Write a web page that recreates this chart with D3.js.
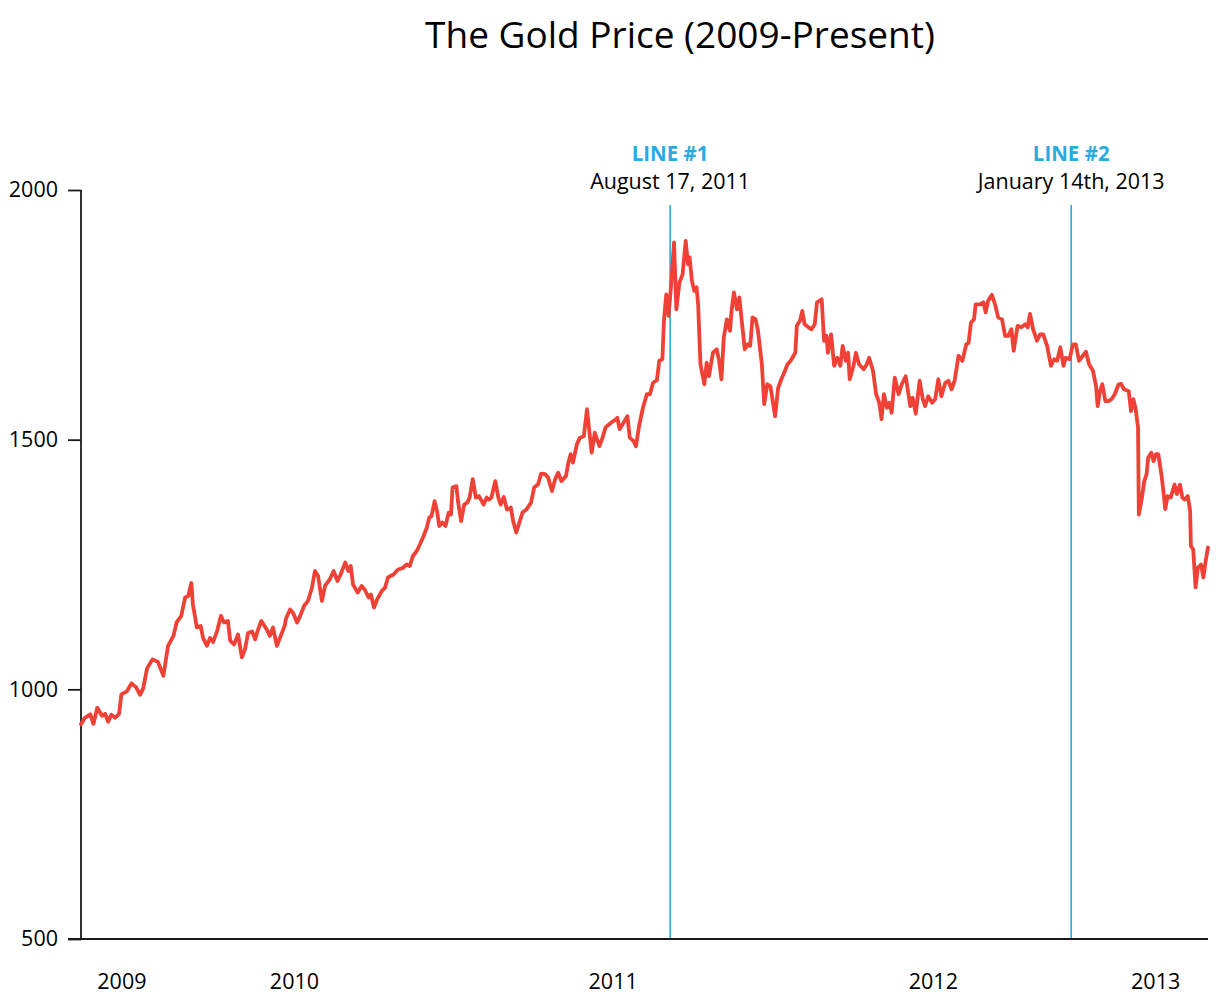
<!DOCTYPE html>
<html>
<head>
<meta charset="utf-8">
<script src="https://cdn.jsdelivr.net/npm/d3@7"></script>
<style>
  html, body { margin: 0; padding: 0; background: #ffffff; }
  svg { display: block; }
  text { font-family: "Open Sans", "Noto Sans", sans-serif; }
</style>
</head>
<body>
<svg id="chart" width="1219" height="1001"></svg>
<script>
// ---- Data ----
// Days elapsed since the first sample (2009-07-20) and gold price in USD/oz.
const startDate = "2009-07-20";
const dayOffsets = [
  0,5,12,16,21,27,31,35,39,44,49,52,59,65,71,76,80,85,92,99,106,112,119,123,129,134,138,142,144,149,
  154,157,162,166,170,175,180,184,189,192,197,202,207,211,215,220,224,227,232,239,243,247,252,256,262,264,269,273,278,282,
  287,292,297,301,305,310,314,320,325,330,334,340,344,347,350,356,361,365,370,373,377,381,387,391,395,402,408,414,419,423,
  427,432,436,440,445,448,451,455,458,461,465,469,473,476,478,483,485,489,493,497,500,504,508,512,518,522,525,528,533,537,
  540,544,548,553,556,560,564,568,573,579,583,588,592,597,601,606,610,614,618,624,627,630,633,638,642,647,651,657,661,667,
  671,675,682,687,690,693,698,703,706,711,714,718,723,728,732,736,741,744,748,750,753,756,759,763,766,770,774,778,781,783,
  786,789,792,794,797,802,805,808,813,818,821,824,827,831,835,837,840,844,847,851,854,858,861,864,868,871,876,879,883,887,
  893,897,901,904,909,913,919,921,925,928,931,936,940,944,947,953,956,959,961,965,969,973,977,980,984,987,989,994,997,1001,
  1007,1011,1014,1019,1023,1027,1030,1033,1037,1040,1043,1047,1052,1056,1061,1067,1070,1074,1079,1083,1086,1090,1095,1099,1103,1107,1112,1116,1120,1124,
  1129,1134,1139,1142,1145,1149,1151,1157,1161,1164,1167,1172,1176,1180,1185,1189,1193,1197,1200,1205,1210,1215,1218,1221,1225,1230,1234,1238,1243,1248,
  1252,1256,1260,1264,1267,1272,1276,1280,1284,1289,1293,1297,1302,1306,1308,1311,1314,1318,1322,1326,1330,1335,1338,1342,1348,1351,1354,1357,1360,1361,
  1365,1368,1371,1373,1377,1380,1383,1386,1390,1393,1395,1398,1402,1407,1410,1414,1417,1420,1424,1427,1428,1431,1434,1437,1441,1444,1447,1450
];
const prices = [
  930,943,950,931,963,947,951,935,949,943,951,990,996,1012,1004,989,1002,1042,1060,1055,1027,1087,1107,1134,1147,1184,1187,1213,1170,1124,
  1127,1103,1087,1103,1095,1116,1147,1134,1137,1097,1090,1110,1064,1080,1113,1116,1100,1116,1137,1120,1107,1124,1087,1103,1127,1143,1160,1153,1134,1147,
  1167,1177,1203,1237,1227,1177,1207,1220,1237,1217,1230,1254,1237,1247,1210,1194,1207,1200,1184,1190,1164,1180,1197,1203,1224,1230,1240,1243,1250,1247,
  1267,1277,1290,1304,1324,1344,1347,1377,1357,1327,1334,1327,1354,1350,1404,1407,1377,1337,1370,1374,1384,1421,1384,1387,1370,1384,1380,1384,1417,1384,
  1370,1385,1360,1364,1337,1314,1334,1354,1360,1374,1404,1410,1432,1431,1424,1397,1421,1434,1417,1427,1454,1471,1454,1491,1504,1507,1561,1474,1514,1487,
  1504,1525,1534,1539,1544,1521,1534,1547,1504,1497,1487,1527,1564,1591,1591,1614,1619,1658,1661,1738,1791,1748,1805,1895,1761,1815,1831,1898,1851,1865,
  1818,1798,1805,1771,1651,1611,1654,1627,1674,1681,1658,1621,1704,1741,1718,1758,1795,1761,1785,1725,1681,1691,1688,1745,1741,1718,1651,1571,1611,1607,
  1547,1604,1621,1631,1651,1658,1674,1728,1738,1758,1731,1725,1721,1731,1775,1781,1698,1708,1674,1711,1648,1664,1648,1688,1658,1674,1621,1648,1674,1651,
  1641,1651,1664,1638,1591,1574,1541,1591,1564,1574,1554,1624,1591,1611,1627,1567,1584,1552,1618,1581,1567,1587,1574,1581,1621,1587,1614,1618,1601,1618,
  1668,1658,1691,1694,1734,1741,1771,1771,1775,1755,1778,1790,1771,1745,1741,1708,1708,1721,1678,1728,1725,1731,1725,1752,1721,1698,1711,1711,1688,1648,
  1661,1658,1685,1648,1664,1661,1691,1691,1658,1668,1676,1651,1638,1607,1567,1597,1611,1577,1577,1581,1591,1611,1612,1601,1597,1557,1581,1561,1524,1350,
  1384,1417,1431,1464,1474,1457,1471,1471,1431,1391,1361,1387,1384,1410,1391,1410,1384,1380,1387,1357,1287,1280,1204,1244,1250,1224,1257,1284
];
const totalDays = 1450;

// Axis labels
const yTickValues = [500, 1000, 1500, 2000];
const yearLabels = ["2009", "2010", "2011", "2012", "2013"];
const yearLabelDates = ["2009-09-10", "2010-04-20", "2011-06-04", "2012-07-20", "2013-05-02"];

// Marker lines
const markerNames = ["LINE #1", "LINE #2"];
const markerTexts = ["August 17, 2011", "January 14th, 2013"];
const markerDates = ["2011-08-17", "2013-01-14"];

const titleText = "The Gold Price (2009-Present)";

// ---- Drawing ----
const parse = d3.utcParse("%Y-%m-%d");
const start = parse(startDate);
const series = dayOffsets.map((d, i) => ({ date: d3.utcDay.offset(start, d), value: prices[i] }));

const svg = d3.select("#chart");
const x = d3.scaleUtc().domain([start, d3.utcDay.offset(start, totalDays)]).range([81, 1208]);
const y = d3.scaleLinear().domain([500, 2000]).range([939, 190]);

const RED = "#ef4136";
const BLUE = "#29abe2";
const INK = "#1a1a1a";
const FONT = '"Open Sans", "Noto Sans", sans-serif';

// Title
svg.append("text")
  .attr("x", 680).attr("y", 48)
  .attr("text-anchor", "middle")
  .attr("font-size", 37)
  .attr("fill", "#000")
  .text(titleText);

// Marker lines
markerDates.forEach((d, i) => {
  const xp = x(parse(d));
  svg.append("line")
    .attr("x1", xp).attr("x2", xp)
    .attr("y1", 205).attr("y2", y(500))
    .attr("stroke", BLUE).attr("stroke-width", 1.6);
  svg.append("text")
    .attr("x", xp).attr("y", 161)
    .attr("text-anchor", "middle")
    .attr("font-size", 20.5).attr("font-weight", "bold")
    .attr("fill", BLUE)
    .text(markerNames[i]);
  svg.append("text")
    .attr("x", xp).attr("y", 189)
    .attr("text-anchor", "middle")
    .attr("font-size", 21.5)
    .attr("fill", "#000")
    .text(markerTexts[i]);
});

// Y axis
const yAxis = svg.append("g")
  .attr("transform", "translate(81,0)")
  .call(d3.axisLeft(y).tickValues(yTickValues).tickSize(13).tickPadding(10).tickFormat(d3.format("d")));
yAxis.select(".domain").remove();
yAxis.selectAll(".tick line").attr("stroke", INK).attr("stroke-width", 1.8);
yAxis.selectAll(".tick text").attr("font-size", 21.5).attr("fill", "#000").style("font-family", FONT);
svg.append("line")
  .attr("x1", 81).attr("x2", 81).attr("y1", y(2000)).attr("y2", y(500))
  .attr("stroke", INK).attr("stroke-width", 1.8);

// X axis
const xAxis = svg.append("g")
  .attr("transform", `translate(0,${y(500)})`)
  .call(d3.axisBottom(x)
    .tickValues(yearLabelDates.map(parse))
    .tickSize(0).tickPadding(35)
    .tickFormat((d, i) => yearLabels[i]));
xAxis.select(".domain").remove();
xAxis.selectAll(".tick text").attr("font-size", 21.5).attr("fill", "#000").style("font-family", FONT);
svg.append("line")
  .attr("x1", 68).attr("x2", 1208).attr("y1", y(500)).attr("y2", y(500))
  .attr("stroke", INK).attr("stroke-width", 1.8);

// Price line
const line = d3.line().x(d => x(d.date)).y(d => y(d.value));
svg.append("path")
  .datum(series)
  .attr("d", line)
  .attr("fill", "none")
  .attr("stroke", RED)
  .attr("stroke-width", 3.8)
  .attr("stroke-linejoin", "round")
  .attr("stroke-linecap", "round");
</script>
</body>
</html>
